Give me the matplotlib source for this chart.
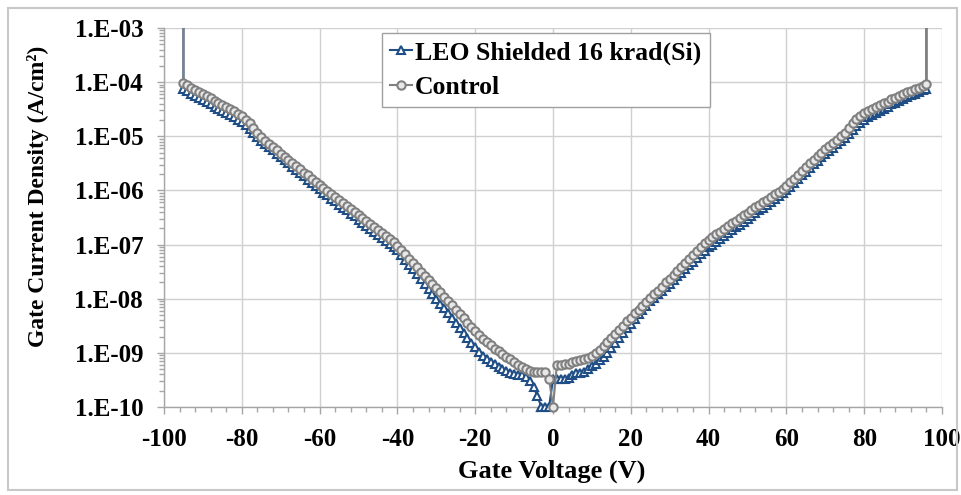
import numpy as np
import matplotlib
matplotlib.use("Agg")
import matplotlib.pyplot as plt
from matplotlib.ticker import MultipleLocator, LogLocator, FuncFormatter, NullFormatter
from matplotlib.transforms import Bbox, TransformedBbox
from matplotlib.patches import Rectangle

plt.rcParams["axes.unicode_minus"] = False

# gate voltage sweep, 1 V steps; the first and last points jump off scale
volts = np.concatenate(([-95], np.arange(-95, 97), [96]))

# log10 of gate current density (A/cm^2)
leo_log = [
    -1.00, -4.13, -4.17, -4.21, -4.25, -4.29, -4.33, -4.37, -4.41, -4.45,
    -4.49, -4.53, -4.57, -4.61, -4.65, -4.69, -4.74, -4.80, -4.87, -4.94,
    -5.01, -5.08, -5.14, -5.20, -5.26, -5.32, -5.38, -5.44, -5.50, -5.56,
    -5.62, -5.68, -5.74, -5.80, -5.86, -5.92, -5.98, -6.04, -6.09, -6.15,
    -6.20, -6.26, -6.32, -6.37, -6.43, -6.48, -6.54, -6.60, -6.65, -6.71,
    -6.76, -6.82, -6.88, -6.93, -6.99, -7.04, -7.10, -7.19, -7.28, -7.37,
    -7.46, -7.55, -7.64, -7.73, -7.82, -7.91, -8.00, -8.09, -8.18, -8.27,
    -8.36, -8.45, -8.54, -8.63, -8.72, -8.81, -8.90, -8.98, -9.05, -9.11,
    -9.16, -9.21, -9.26, -9.30, -9.34, -9.37, -9.39, -9.40, -9.41, -9.45,
    -9.52, -9.63, -9.80, -10.00, -10.00, -10.00, -9.48, -9.48, -9.48, -9.48,
    -9.47, -9.40, -9.38, -9.37, -9.35, -9.30, -9.25, -9.20, -9.14, -9.07,
    -9.00, -8.91, -8.82, -8.73, -8.64, -8.55, -8.46, -8.37, -8.29, -8.21,
    -8.13, -8.05, -7.98, -7.92, -7.85, -7.78, -7.72, -7.65, -7.58, -7.52,
    -7.45, -7.38, -7.32, -7.25, -7.18, -7.12, -7.05, -7.00, -6.95, -6.89,
    -6.84, -6.79, -6.74, -6.68, -6.63, -6.58, -6.53, -6.47, -6.42, -6.37,
    -6.32, -6.26, -6.21, -6.16, -6.11, -6.05, -6.00, -5.93, -5.86, -5.79,
    -5.72, -5.66, -5.59, -5.52, -5.45, -5.39, -5.33, -5.27, -5.21, -5.15,
    -5.09, -5.03, -4.96, -4.88, -4.81, -4.75, -4.69, -4.65, -4.61, -4.57,
    -4.53, -4.49, -4.45, -4.41, -4.38, -4.34, -4.31, -4.27, -4.24, -4.21,
    -4.18, -4.15, -4.12, -1.00,
]

control_log = [
    -1.00, -4.02, -4.06, -4.10, -4.14, -4.18, -4.22, -4.26, -4.30, -4.34,
    -4.38, -4.42, -4.46, -4.50, -4.54, -4.58, -4.63, -4.69, -4.76, -4.85,
    -4.94, -5.02, -5.08, -5.14, -5.20, -5.26, -5.32, -5.38, -5.43, -5.49,
    -5.55, -5.61, -5.67, -5.72, -5.78, -5.84, -5.90, -5.96, -6.01, -6.07,
    -6.12, -6.18, -6.23, -6.29, -6.34, -6.40, -6.45, -6.51, -6.56, -6.62,
    -6.67, -6.73, -6.78, -6.84, -6.89, -6.95, -7.02, -7.10, -7.18, -7.26,
    -7.34, -7.42, -7.50, -7.58, -7.66, -7.73, -7.80, -7.88, -7.96, -8.04,
    -8.12, -8.20, -8.28, -8.36, -8.44, -8.52, -8.60, -8.67, -8.74, -8.80,
    -8.86, -8.92, -8.97, -9.02, -9.07, -9.12, -9.17, -9.22, -9.26, -9.30,
    -9.33, -9.35, -9.35, -9.35, -9.35, -9.48, -10.00, -9.22, -9.22, -9.21,
    -9.20, -9.17, -9.15, -9.14, -9.12, -9.09, -9.05, -9.00, -8.94, -8.87,
    -8.80, -8.72, -8.65, -8.57, -8.50, -8.42, -8.35, -8.27, -8.20, -8.13,
    -8.06, -7.99, -7.92, -7.85, -7.78, -7.70, -7.63, -7.56, -7.48, -7.41,
    -7.34, -7.27, -7.19, -7.12, -7.05, -6.98, -6.92, -6.86, -6.81, -6.76,
    -6.71, -6.66, -6.61, -6.56, -6.51, -6.46, -6.41, -6.36, -6.31, -6.26,
    -6.21, -6.17, -6.12, -6.07, -6.02, -5.97, -5.92, -5.85, -5.78, -5.71,
    -5.64, -5.57, -5.50, -5.43, -5.36, -5.30, -5.24, -5.18, -5.12, -5.06,
    -5.00, -4.94, -4.85, -4.76, -4.68, -4.62, -4.57, -4.53, -4.49, -4.46,
    -4.42, -4.39, -4.36, -4.32, -4.29, -4.25, -4.22, -4.19, -4.16, -4.13,
    -4.10, -4.07, -4.04, -1.00,
]

leo = 10.0 ** np.array(leo_log)
control = 10.0 ** np.array(control_log)

BLUE = "#1F4E86"
GRAY = "#808080"
FONT = "Liberation Serif"

W, H = 961, 495
fig = plt.figure(figsize=(W / 100, H / 100), dpi=100)
ax = fig.add_axes([164 / W, 1 - 407 / H, (942 - 164) / W, (407 - 28) / H])

l1, = ax.plot(volts, leo, color=BLUE, lw=1.5, marker="^", ms=6,
              mfc="white", mec=BLUE, mew=1.5, label="LEO Shielded 16 krad(Si)", zorder=3)
l2, = ax.plot(volts, control, color=GRAY, lw=1.5, marker="o", ms=6,
              mfc="#e8e8e8", mec=GRAY, mew=1.5, label="Control", zorder=4)

# let markers sitting on the bottom axis show fully, but clip the spikes at the top
clip = TransformedBbox(Bbox([[0, -0.04], [1, 1]]), ax.transAxes)
for ln in (l1, l2):
    ln.set_clip_box(clip)

ax.set_yscale("log")
ax.set_xlim(-100, 100)
ax.set_ylim(1e-10, 1e-3)
ax.xaxis.set_major_locator(MultipleLocator(20))
ax.xaxis.set_minor_locator(MultipleLocator(4))
ax.yaxis.set_major_locator(LogLocator(base=10, numticks=20))
ax.yaxis.set_minor_locator(LogLocator(base=10, subs=np.arange(2, 10), numticks=20))
ax.yaxis.set_minor_formatter(NullFormatter())
ax.yaxis.set_major_formatter(FuncFormatter(lambda v, p: "1.E-%02d" % int(round(-np.log10(v)))))

ax.grid(True, which="major", color="#d0d0d0", lw=1.0)
ax.set_axisbelow(True)
for s in ("top", "right"):
    ax.spines[s].set_visible(False)
for s in ("left", "bottom"):
    ax.spines[s].set_color("#a6a6a6")
    ax.spines[s].set_linewidth(1.0)

ax.tick_params(which="major", direction="out", length=5, width=1, color="#a6a6a6")
ax.tick_params(which="minor", direction="out", length=3.5, width=1, color="#a6a6a6")
ax.tick_params(axis="x", which="major", pad=10)
ax.tick_params(axis="y", which="major", pad=10)
for lab in ax.get_xticklabels() + ax.get_yticklabels():
    lab.set_fontfamily(FONT)
    lab.set_fontweight("bold")
    lab.set_fontsize(18)

fig.text(552 / W, 1 - 471 / H, "Gate Voltage (V)", ha="center", va="center",
         fontfamily=FONT, fontweight="bold", fontsize=19)
fig.text(38 / W, 1 - 196 / H, "Gate Current Density (A/cm²)", ha="center", va="center",
         rotation=90, fontfamily=FONT, fontweight="bold", fontsize=17)

leg = ax.legend(loc="upper left", bbox_to_anchor=(382 / W, 1 - 33 / H),
                bbox_transform=fig.transFigure, borderaxespad=0,
                prop={"family": FONT, "weight": "bold", "size": 18.5},
                handlelength=0.85, handletextpad=0.1, labelspacing=0.42,
                borderpad=0.33, fancybox=False, framealpha=1, edgecolor="#a0a0a0")
leg.get_frame().set_linewidth(1.0)

# light border around the whole chart
fig.add_artist(Rectangle((8 / W, 5 / H), (957 - 8) / W, (487 - 5) / H,
                         transform=fig.transFigure, fill=False,
                         ec="#c8c8c8", lw=1.5))

fig.savefig("out.png", dpi=100)
